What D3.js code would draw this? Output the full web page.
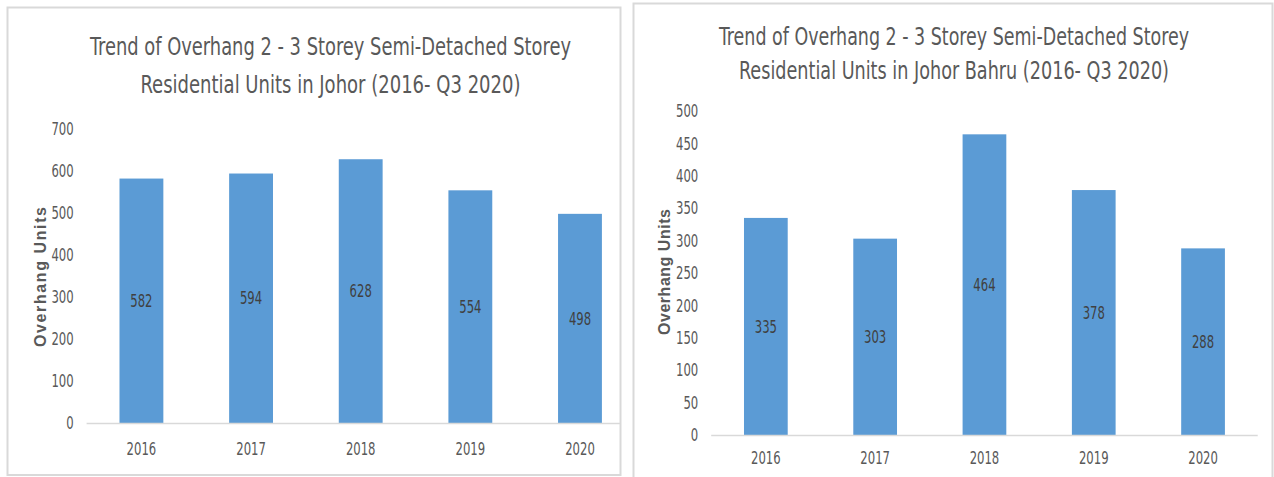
<!DOCTYPE html>
<meta charset="utf-8">
<style>
  body { margin: 0; background: #fff; }
  text { fill: #595959; }
</style>
<body>
<script src="https://cdn.jsdelivr.net/npm/d3@7"></script>
<div id="chart"></div>
<script>

// data
var years = ["2016", "2017", "2018", "2019", "2020"];
var johorUnits = [582, 594, 628, 554, 498];
var johorBahruUnits = [335, 303, 464, 378, 288];
var johorTicks = [0, 100, 200, 300, 400, 500, 600, 700];
var johorBahruTicks = [0, 50, 100, 150, 200, 250, 300, 350, 400, 450, 500];
var johorTitle = ["Trend of Overhang 2 - 3 Storey Semi-Detached Storey",
                  "Residential Units in Johor (2016- Q3 2020)"];
var johorBahruTitle = ["Trend of Overhang 2 - 3 Storey Semi-Detached Storey",
                       "Residential Units in Johor Bahru (2016- Q3 2020)"];
var yLabel = "Overhang Units";

var narrow = "'Liberation Sans Narrow', 'DejaVu Sans Condensed', 'Roboto', sans-serif";
var barColor = "#5b9bd5";
var digitW = 7.4; // the source digits are very narrow

// squeeze short number labels to the narrow width of the original
function narrowText(sel) {
  sel.attr("textLength", function() { return this.textContent.length * digitW; })
     .attr("lengthAdjust", "spacingAndGlyphs")
     .style("font-family", narrow)
     .style("font-size", "17.5px");
}

var svg = d3.select("#chart")
  .append("svg")
    .attr("width", 1274)
    .attr("height", 477);

// one panel per chart; positions are layout only, values come from the arrays above
var panels = [
  {id: "johor", values: johorUnits, ticks: johorTicks, title: johorTitle,
   frame: {x: 7.5, y: 7.5, w: 613, h: 467.5},
   xRange: [86.6, 634.8], yRange: [423, 129], clipRight: 620,
   titleX: 330.5, titleY: [55, 93], titleW: [481, 380],
   yLabelX: 40, yLabelY: 277, yLabelW: 140, xPad: 20},
  {id: "bahru", values: johorBahruUnits, ticks: johorBahruTicks, title: johorBahruTitle,
   frame: {x: 633.5, y: 3.5, w: 639, h: 480},
   xRange: [711.2, 1257.7], yRange: [435, 111], clipRight: 1258,
   titleX: 954, titleY: [45, 79], titleW: [470, 430],
   yLabelX: 664, yLabelY: 272, yLabelW: 126, xPad: 17}
];

panels.forEach(function(p) {
  // panel frame
  svg.append("rect")
    .attr("x", p.frame.x)
    .attr("y", p.frame.y)
    .attr("width", p.frame.w)
    .attr("height", p.frame.h)
    .style("fill", "#fff")
    .style("stroke", "#d9d9d9")
    .style("stroke-width", 2);

  var x = d3.scaleBand()
    .domain(years)
    .range(p.xRange)
    .paddingInner(0.6)
    .paddingOuter(0.3);

  var y = d3.scaleLinear()
    .domain([0, d3.max(p.ticks)])
    .range(p.yRange);

  // title
  svg.append("g")
    .selectAll("text")
    .data(p.title)
    .enter()
    .append("text")
      .attr("x", p.titleX)
      .attr("y", function(d, i) { return p.titleY[i]; })
      .attr("text-anchor", "middle")
      .attr("textLength", function(d, i) { return p.titleW[i]; })
      .attr("lengthAdjust", "spacingAndGlyphs")
      .style("font-family", narrow)
      .style("font-size", "24px")
      .text(function(d) { return d; });

  // y axis
  var yAxis = svg.append("g")
    .attr("transform", "translate(" + p.xRange[0] + ",0)")
    .call(d3.axisLeft(y).tickValues(p.ticks).tickSize(0).tickPadding(13));
  yAxis.select(".domain").remove();
  yAxis.selectAll("text")
    .call(narrowText)
    .style("fill", "#595959");

  // y axis title
  svg.append("text")
    .attr("transform", "translate(" + p.yLabelX + "," + p.yLabelY + ") rotate(-90)")
    .attr("text-anchor", "middle")
    .attr("dy", "0.35em")
    .attr("textLength", p.yLabelW)
    .attr("lengthAdjust", "spacing")
    .style("font-family", "'Liberation Sans', Arial, sans-serif")
    .style("font-size", "16px")
    .style("font-weight", "bold")
    .text(yLabel);

  // bars
  svg.append("g")
    .selectAll("rect")
    .data(p.values)
    .enter()
    .append("rect")
      .attr("x", function(d, i) { return x(years[i]); })
      .attr("y", function(d) { return y(d); })
      .attr("width", x.bandwidth())
      .attr("height", function(d) { return y(0) - y(d); })
      .style("fill", barColor);

  // base line
  svg.append("line")
    .attr("x1", p.xRange[0])
    .attr("x2", Math.min(p.xRange[1], p.clipRight))
    .attr("y1", y(0) + 0.5)
    .attr("y2", y(0) + 0.5)
    .style("stroke", "#d9d9d9")
    .style("stroke-width", 1.5);

  // x axis labels
  var xAxis = svg.append("g")
    .attr("transform", "translate(0," + y(0) + ")")
    .call(d3.axisBottom(x).tickSize(0).tickPadding(p.xPad));
  xAxis.select(".domain").remove();
  xAxis.selectAll("text")
    .call(narrowText)
    .style("fill", "#595959");

  // value labels centred in the bars
  svg.append("g")
    .selectAll("text")
    .data(p.values)
    .enter()
    .append("text")
      .attr("x", function(d, i) { return x(years[i]) + x.bandwidth() / 2; })
      .attr("y", function(d) { return y(d / 2); })
      .attr("dy", "0.35em")
      .attr("text-anchor", "middle")
      .text(function(d) { return d; })
      .call(narrowText)
      .style("fill", "#404040");
});

</script>
</body>
